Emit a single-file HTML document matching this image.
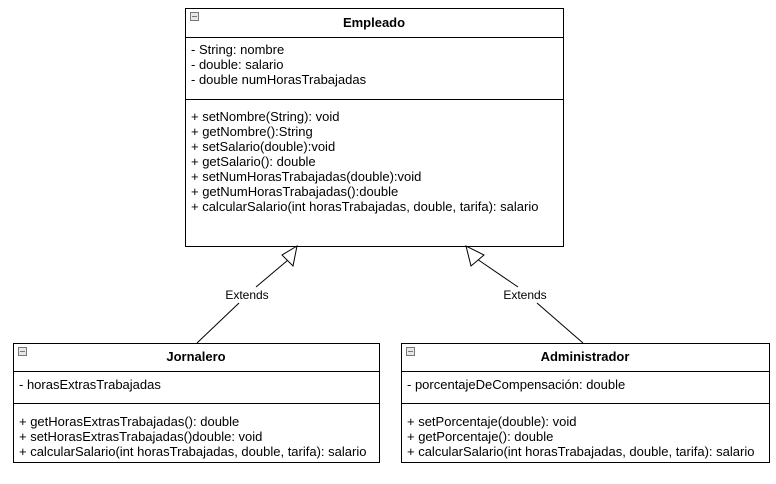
<!DOCTYPE html>
<html><head><meta charset="utf-8"><style>
html,body{margin:0;padding:0;background:#fff;}
text{font-family:"Liberation Sans",Arial,sans-serif;font-size:13px;fill:#000;}
.b{font-weight:bold;}
</style></head><body>
<svg width="776" height="479" viewBox="0 0 776 479" xmlns="http://www.w3.org/2000/svg">
<g fill="#fff" stroke="#000" stroke-width="1">
<rect x="185.5" y="8.5" width="378" height="238"/>
<line x1="185.5" y1="37.5" x2="563.5" y2="37.5"/>
<line x1="185.5" y1="99.5" x2="563.5" y2="99.5"/>
<rect x="13.5" y="343.5" width="366" height="119"/>
<line x1="13.5" y1="371.5" x2="379.5" y2="371.5"/>
<line x1="13.5" y1="403.5" x2="379.5" y2="403.5"/>
<rect x="401.5" y="343.5" width="368" height="119"/>
<line x1="401.5" y1="371.5" x2="769.5" y2="371.5"/>
<line x1="401.5" y1="403.5" x2="769.5" y2="403.5"/>
</g>
<g fill="#e8e8e8" stroke="#777" stroke-width="1">
<rect x="190.5" y="12.5" width="8" height="8"/><line x1="192" y1="16.5" x2="197" y2="16.5"/>
<rect x="18.5" y="347.5" width="8" height="8"/><line x1="20" y1="351.5" x2="25" y2="351.5"/>
<rect x="406.5" y="347.5" width="8" height="8"/><line x1="408" y1="351.5" x2="413" y2="351.5"/>
</g>
<g stroke="#000" stroke-width="1" fill="#fff">
<line x1="197" y1="343" x2="239" y2="303"/><line x1="256" y1="287" x2="288" y2="260"/>
<polygon points="297,246 282,255 293,266"/>
<line x1="583" y1="343" x2="537" y2="303"/><line x1="518" y1="287" x2="477" y2="259"/>
<polygon points="466,246 471,266 484,255"/>
</g>
<text x="247" y="299" text-anchor="middle" style="font-size:12px">Extends</text>
<text x="525" y="299" text-anchor="middle" style="font-size:12px">Extends</text>
<text x="374" y="27" text-anchor="middle" class="b">Empleado</text>
<text x="191" y="54">- String: nombre</text>
<text x="191" y="69">- double: salario</text>
<text x="191" y="84">- double numHorasTrabajadas</text>
<text x="191" y="121">+ setNombre(String): void</text>
<text x="191" y="136">+ getNombre():String</text>
<text x="191" y="151">+ setSalario(double):void</text>
<text x="191" y="166">+ getSalario(): double</text>
<text x="191" y="181">+ setNumHorasTrabajadas(double):void</text>
<text x="191" y="196">+ getNumHorasTrabajadas():double</text>
<text x="191" y="211">+ calcularSalario(int horasTrabajadas, double, tarifa): salario</text>
<text x="196" y="361" text-anchor="middle" class="b">Jornalero</text>
<text x="19" y="389">- horasExtrasTrabajadas</text>
<text x="19" y="426">+ getHorasExtrasTrabajadas(): double</text>
<text x="19" y="441">+ setHorasExtrasTrabajadas()double: void</text>
<text x="19" y="456">+ calcularSalario(int horasTrabajadas, double, tarifa): salario</text>
<text x="585" y="361" text-anchor="middle" class="b">Administrador</text>
<text x="407" y="389">- porcentajeDeCompensación: double</text>
<text x="407" y="426">+ setPorcentaje(double): void</text>
<text x="407" y="441">+ getPorcentaje(): double</text>
<text x="407" y="456">+ calcularSalario(int horasTrabajadas, double, tarifa): salario</text>
</svg>
</body></html>
